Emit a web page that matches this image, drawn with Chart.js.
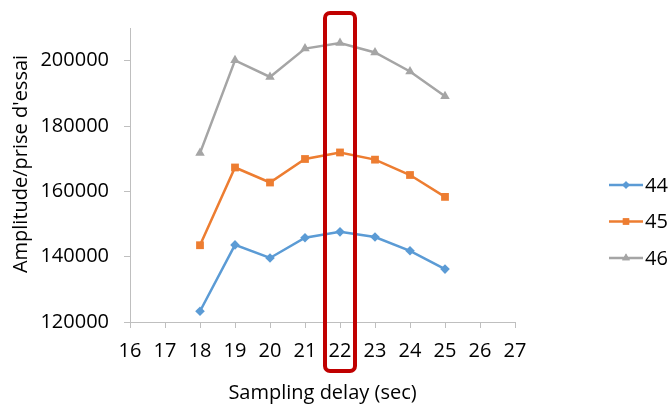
<!DOCTYPE html>
<html><head><meta charset="utf-8">
<script src="https://cdn.jsdelivr.net/npm/chart.js@4/dist/chart.umd.min.js"></script>
<style>html,body{margin:0;padding:0;background:#fff}#wrap{width:670px;height:405px;position:relative}</style>
</head><body><div id="wrap"><canvas id="c" width="670" height="405"></canvas></div>
<script>
const delays = [18, 19, 20, 21, 22, 23, 24, 25];
const seriesNames = ["44", "45", "46"];
const s44 = [123300, 143600, 139600, 145800, 147600, 146000, 141800, 136200];
const s45 = [143500, 167300, 162700, 169900, 171900, 169700, 165000, 158300];
const s46 = [171700, 200100, 195000, 203700, 205400, 202500, 196700, 189100];
const xTicks = [16, 17, 18, 19, 20, 21, 22, 23, 24, 25, 26, 27];
const yTicks = [120000, 140000, 160000, 180000, 200000];
const highlightX = 22;
const yTitle = "Amplitude/prise d'essai";
const xTitle = "Sampling delay (sec)";

const FONT = "'Open Sans', sans-serif";
const colors = ['#5b9bd5', '#ed7d31', '#a5a5a5'];
const styles = ['rectRot', 'rect', 'triangle'];
const radii = [4.8, 5.5, 5.5];
const allSeries = [s44, s45, s46];

const datasets = allSeries.map((s, i) => ({
  label: seriesNames[i],
  data: delays.map((d, j) => ({x: d, y: s[j]})),
  borderColor: colors[i],
  backgroundColor: colors[i],
  borderWidth: 2.5,
  pointStyle: styles[i],
  pointRadius: radii[i],
  pointBorderWidth: 0,
  tension: 0
}));

const decor = {
  id: 'decor',
  afterDraw(chart) {
    const ctx = chart.ctx;
    const xs = chart.scales.x;
    ctx.save();
    // y title
    ctx.fillStyle = '#000';
    ctx.font = '20px ' + FONT;
    ctx.textAlign = 'center';
    ctx.textBaseline = 'middle';
    ctx.save();
    ctx.translate(21, 164);
    ctx.rotate(-Math.PI / 2);
    ctx.fillText(yTitle, 0, 0);
    ctx.restore();
    // highlight box
    const cx = xs.getPixelForValue(highlightX);
    ctx.strokeStyle = '#c00000';
    ctx.lineWidth = 4;
    ctx.beginPath();
    ctx.roundRect(cx - 15, 13, 30, 358, 5);
    ctx.stroke();
    // legend
    const ys = [185, 221.5, 258];
    chart.data.datasets.forEach((ds, i) => {
      const y = ys[i];
      ctx.strokeStyle = ds.borderColor;
      ctx.lineWidth = 2.5;
      ctx.beginPath(); ctx.moveTo(609, y); ctx.lineTo(643, y); ctx.stroke();
      ctx.fillStyle = ds.backgroundColor;
      ctx.beginPath();
      Chart.helpers.drawPoint(ctx, {pointStyle: ds.pointStyle, radius: ds.pointRadius - 1, borderWidth: 0}, 626, y);
      ctx.fill();
      ctx.fillStyle = '#000';
      ctx.font = '20px ' + FONT;
      ctx.textBaseline = 'middle';
      ctx.textAlign = 'left';
      ctx.fillText(ds.label, 645, y + 1);
    });
    ctx.restore();
  }
};

new Chart(document.getElementById('c'), {
  type: 'line',
  data: {datasets},
  options: {
    responsive: false,
    animation: false,
    layout: {padding: {left: 0, right: 155, top: 28, bottom: 0}},
    plugins: {legend: {display: false}, tooltip: {enabled: false}},
    scales: {
      x: {
        type: 'linear', min: 16, max: 27,
        afterBuildTicks: s => { s.ticks = xTicks.map(v => ({value: v})); },
        afterFit: s => { s.height = 83; },
        border: {color: '#bfbfbf', width: 1},
        grid: {drawOnChartArea: false, drawTicks: true, tickLength: 6, color: '#bfbfbf'},
        ticks: {color: '#000', font: {family: FONT, size: 20}, padding: 11, maxRotation: 0, callback: v => String(v)},
        title: {display: true, text: xTitle, color: '#000', font: {family: FONT, size: 20}, padding: {top: 14, bottom: 0}}
      },
      y: {
        type: 'linear', min: 120000, max: 210000,
        afterBuildTicks: s => { s.ticks = yTicks.map(v => ({value: v})); },
        afterFit: s => { s.width = 130; },
        border: {color: '#bfbfbf', width: 1},
        grid: {drawOnChartArea: false, drawTicks: true, tickLength: 6, color: '#bfbfbf'},
        ticks: {color: '#000', font: {family: FONT, size: 20}, padding: 15, callback: v => String(v)},
        title: {display: false}
      }
    }
  },
  plugins: [decor]
});
</script></body></html>
